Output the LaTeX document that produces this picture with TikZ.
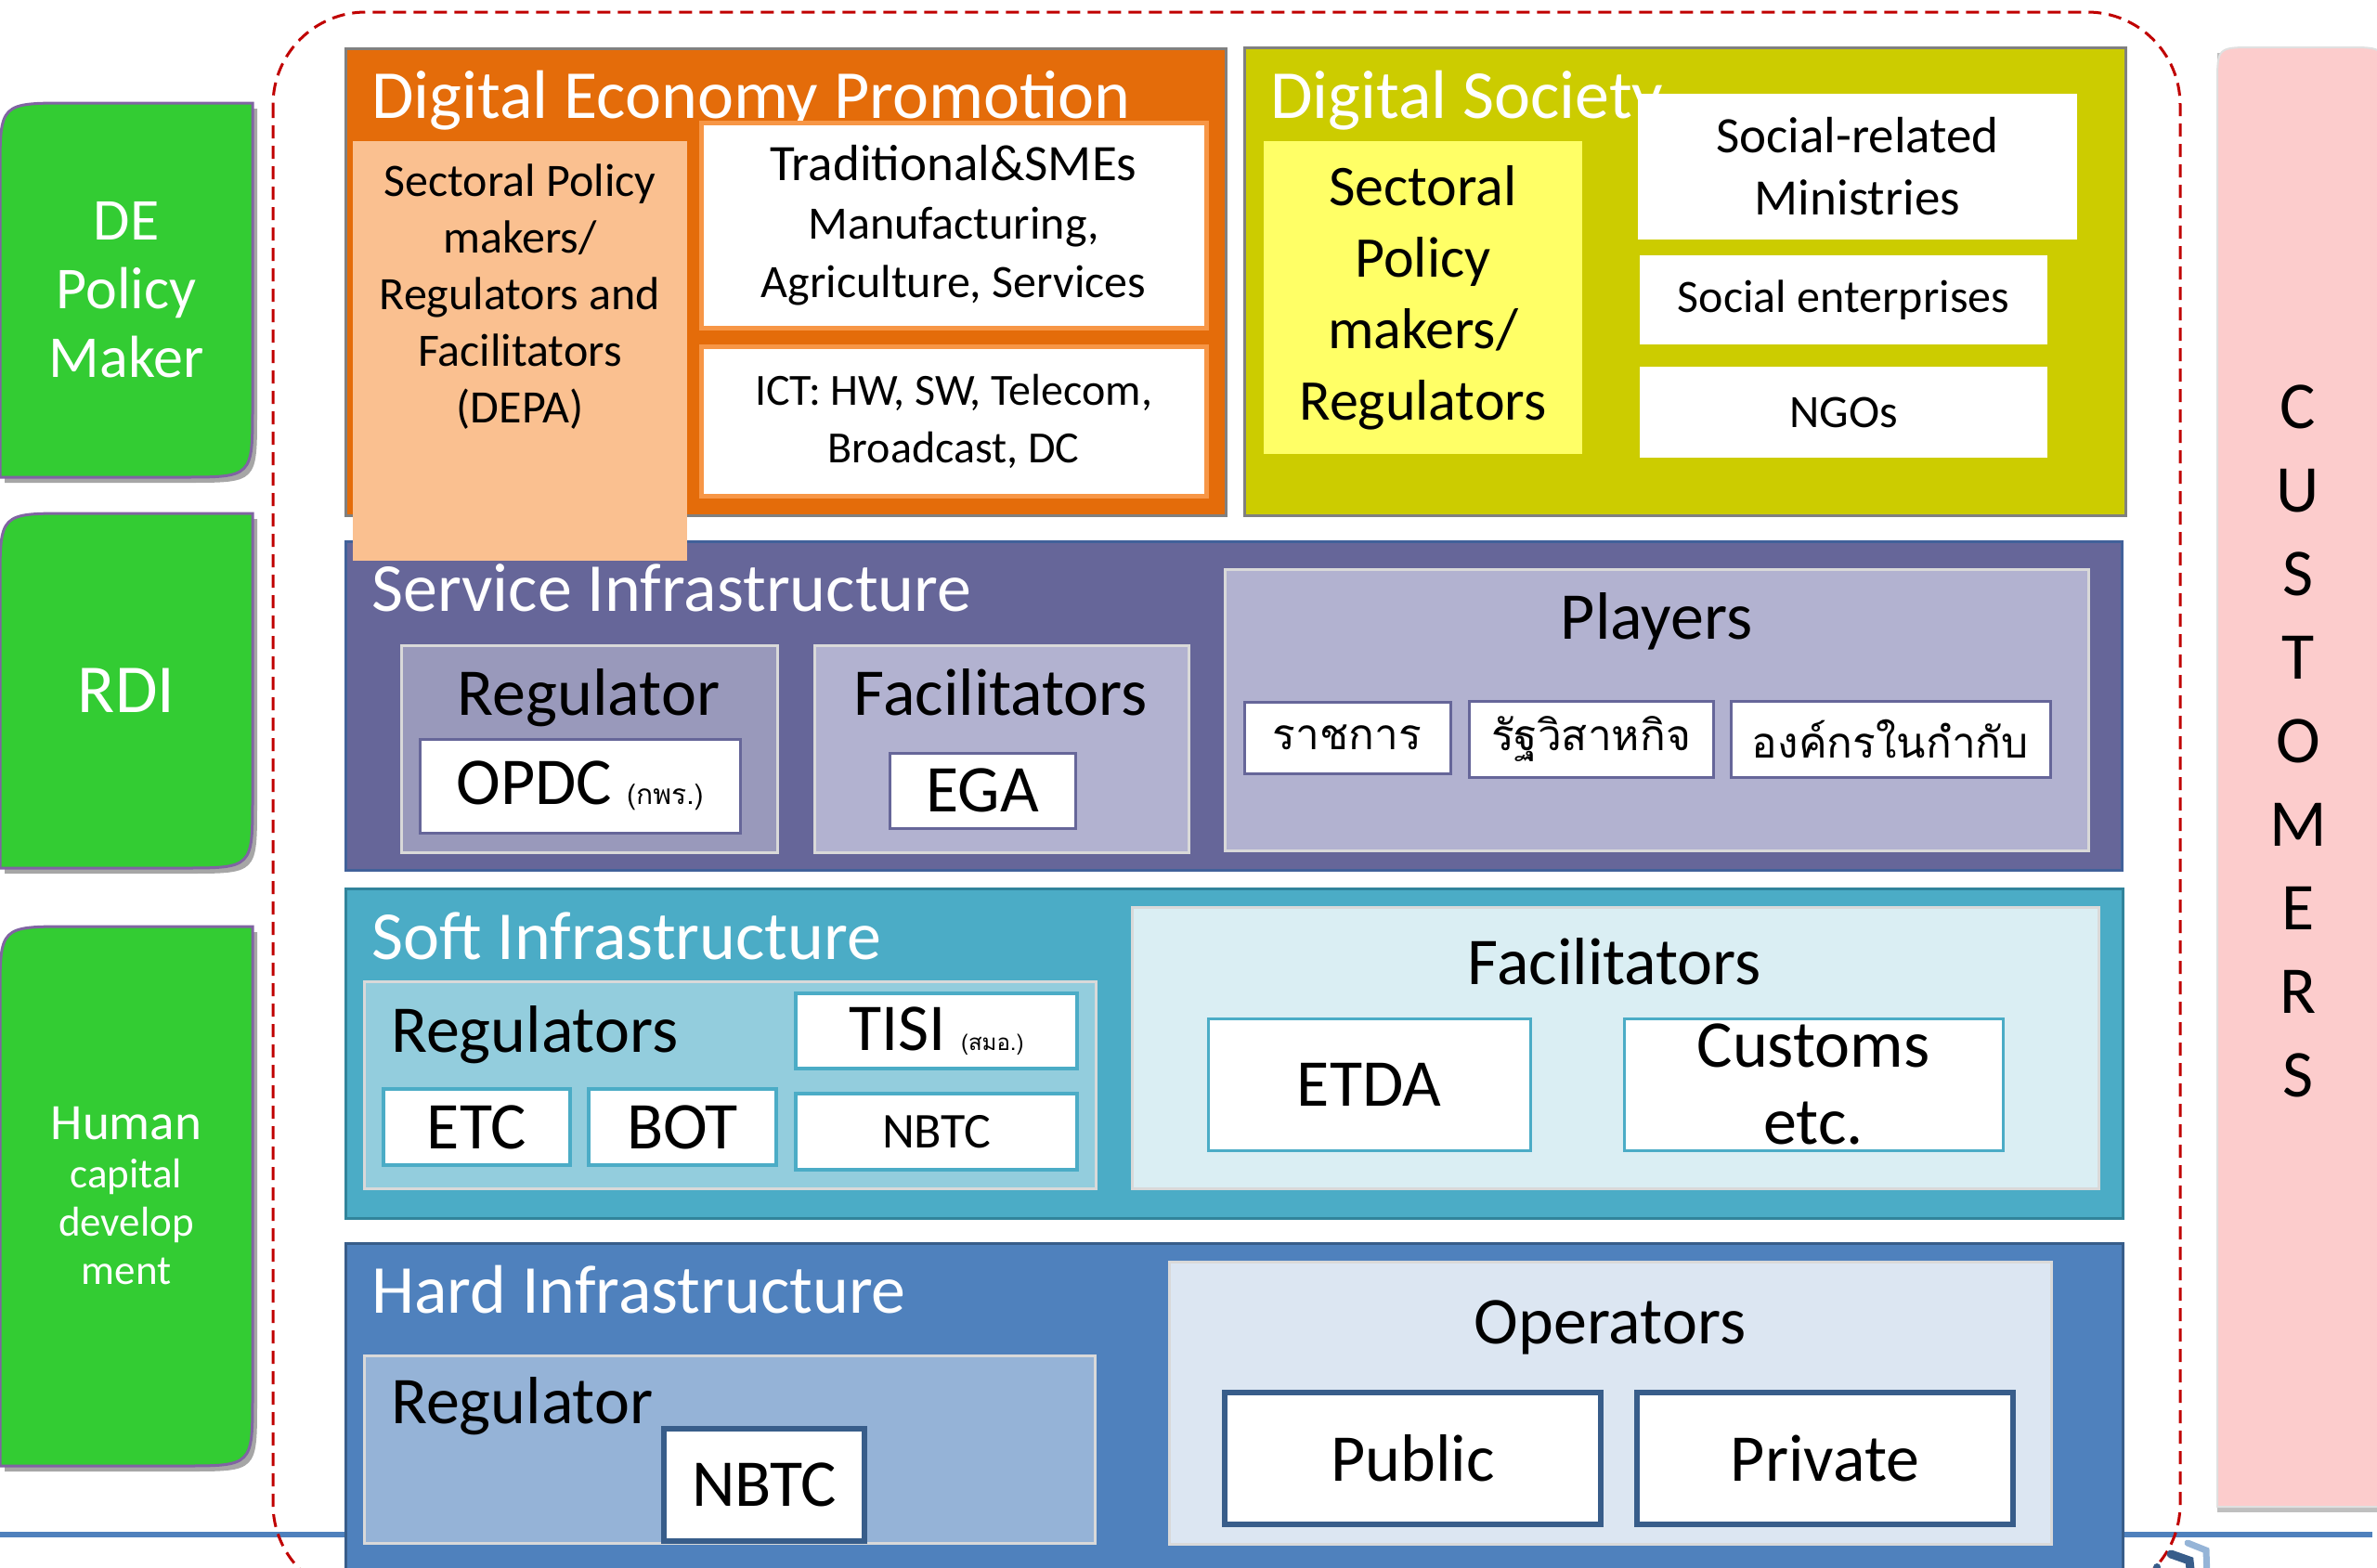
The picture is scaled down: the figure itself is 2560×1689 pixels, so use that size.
\documentclass[tikz,border=0pt]{standalone}
\usepackage{fontspec}
\setmainfont{Carlito}
\newfontfamily\thaifont[Script=Thai]{Loma}
\usetikzlibrary{calc,backgrounds}

\definecolor{deOrange}{HTML}{E46C0A}
\definecolor{deLine}{HTML}{F79646}
\definecolor{dePeach}{HTML}{FAC090}
\definecolor{dsOlive}{HTML}{CCCC00}
\definecolor{dsYellow}{HTML}{FFFF66}
\definecolor{svcPurple}{HTML}{666699}
\definecolor{svcEdge}{HTML}{41619A}
\definecolor{svcMid}{HTML}{9999BB}
\definecolor{svcLight}{HTML}{B2B2D0}
\definecolor{softTeal}{HTML}{4BACC6}
\definecolor{softEdge}{HTML}{31849B}
\definecolor{softLight}{HTML}{93CDDD}
\definecolor{softPale}{HTML}{DAEEF3}
\definecolor{hardBlue}{HTML}{4F81BD}
\definecolor{hardDark}{HTML}{385D8A}
\definecolor{hardMid}{HTML}{95B3D7}
\definecolor{hardPale}{HTML}{DCE6F2}
\definecolor{custPink}{HTML}{FCCCCC}
\definecolor{greenBox}{HTML}{33CC33}
\definecolor{greenEdge}{HTML}{8064A2}
\definecolor{dashRed}{HTML}{C00000}

\begin{document}
\begin{tikzpicture}[x=1pt,y=-1pt,
    box/.style={anchor=north west,inner sep=0pt,outer sep=0pt,align=center,text=black},
    layer/.style={box,line width=3pt},
    inner/.style={box,draw=black!15,line width=3pt},
    wbox/.style={box,fill=white,line width=3pt},
    side/.style={box,text=white,minimum width=272pt},
    ttl/.style={anchor=base west,inner sep=0pt,text=white,font=\fontsize{74}{89}\selectfont},
    lbl/.style={anchor=base,inner sep=0pt,font=\fontsize{72}{86}\selectfont},
    big/.style={font=\fontsize{72}{86}\selectfont},
    mid/.style={font=\fontsize{50}{62}\selectfont},
    thai/.style={font=\thaifont\fontsize{46}{55}\selectfont},
    gpath/.style={insert path={(#1.south west) -- ($(#1.north west)+(0,75)$)
      .. controls (#1.north west) .. ($(#1.north west)+(75,0)$) -- (#1.north east)
      -- ($(#1.south east)+(0,-75)$) .. controls (#1.south east) .. ($(#1.south east)+(-75,0)$) -- cycle}}]

  \useasboundingbox (0,0) rectangle (2560,1689);

  % slide line and dashed frame
  \draw[hardBlue,line width=6pt] (0,1653) -- (2555,1653);
  \draw[dashRed,line width=3pt,dash pattern=on 14pt off 8pt,rounded corners=100pt]
    (294,13) rectangle (2348,1720);
  \draw[hardDark,line width=9pt,line cap=round] (2338,1674) -- (2358,1681) -- (2360,1700);
  \draw[hardBlue!60,line width=7pt,line cap=round] (2356,1662) -- (2376,1670) -- (2377,1700);
  \fill[hardDark] (2323,1688) circle (4);

  % side boxes
  \node[side,minimum height=403pt,font=\fontsize{64}{74}\selectfont] (de) at (0,111) {DE\\Policy\\Maker};
  \node[side,minimum height=382pt,font=\fontsize{74}{88}\selectfont] (rdi) at (0,553) {RDI};
  \node[side,minimum height=581pt,font=\fontsize{45}{52}\selectfont] (hc) at (0,998)
    {{\fontsize{55}{60}\selectfont Human}\\capital\\develop\\ment};
  \node[box,minimum width=180pt,minimum height=1572pt] (cust) at (2388,51) {};
  \node[inner sep=0pt,align=center,font=\fontsize{72}{90}\selectfont] (custTxt) at (2475,798)
    {C\\U\\S\\T\\O\\M\\E\\R\\S};
  \begin{scope}[on background layer]
    \foreach \n in {de,rdi,hc}{
      \fill[black!35,transform canvas={shift={(5pt,-6pt)}}] [gpath=\n];
      \filldraw[fill=greenBox,draw=greenEdge,line width=3pt] [gpath=\n];
    }
    \fill[black!25,transform canvas={shift={(0pt,-6pt)}}] (cust.south west) -- (cust.north west) -- (cust.north east) -- (cust.south east) -- cycle;
    \filldraw[fill=custPink,draw=black!12,line width=2pt] (cust.south west) -- ($(cust.north west)+(0,40)$)
      .. controls (cust.north west) .. ($(cust.north west)+(40,0)$) -- ($(cust.north east)+(-40,0)$)
      .. controls (cust.north east) .. ($(cust.north east)+(0,40)$) -- (cust.south east) -- cycle;
  \end{scope}

  % layers
  \node[layer,fill=deOrange,draw=black!50,minimum width=948pt,minimum height=503pt] (deBox) at (372,52) {};
  \node[layer,fill=dsOlive,draw=black!50,minimum width=949pt,minimum height=504pt] (dsBox) at (1340,51) {};
  \node[layer,fill=svcPurple,draw=svcEdge,minimum width=1913pt,minimum height=354pt] (svc) at (372,583) {};
  \node[layer,fill=softTeal,draw=softEdge,minimum width=1914pt,minimum height=355pt] (soft) at (372,957) {};
  \node[layer,fill=hardBlue,draw=hardDark,minimum width=1914pt,minimum height=400pt] (hard) at (372,1339) {};

  % digital economy promotion
  \node[ttl] (deTtl) at (400,127) {Digital Economy Promotion};
  \node[box,fill=dePeach,minimum width=360pt,minimum height=452pt] (depa) at (380,152) {};
  \node[anchor=north,inner sep=0pt,align=center,font=\fontsize{50}{61}\selectfont] (depaTxt) at (560,177)
    {Sectoral Policy\\makers/\\Regulators and\\Facilitators\\(DEPA)};
  \node[wbox,draw=deLine,line width=5pt,minimum width=544pt,minimum height=221pt,font=\fontsize{50}{63}\selectfont] (trad) at (755,132)
    {{\fontsize{55}{63}\selectfont Traditional\&SMEs}\\Manufacturing,\\Agriculture, Services};
  \node[wbox,draw=deLine,line width=5pt,minimum width=544pt,minimum height=161pt,font=\fontsize{48}{62}\selectfont] (ict) at (755,373)
    {ICT: HW, SW, Telecom,\\Broadcast, DC};

  % digital society
  \node[ttl] (dsTtl) at (1368,127) {Digital Society};
  \node[box,fill=dsYellow,minimum width=343pt,minimum height=337pt,font=\fontsize{62}{77}\selectfont] (dsReg) at (1361,152)
    {Sectoral\\Policy\\makers/\\Regulators};
  \node[box,fill=white,minimum width=473pt,minimum height=157pt,font=\fontsize{55}{67}\selectfont] (socMin) at (1764,101)
    {Social-related\\Ministries};
  \node[box,fill=white,minimum width=439pt,minimum height=96pt,mid] (socEnt) at (1766,275) {Social enterprises};
  \node[box,fill=white,minimum width=439pt,minimum height=98pt,mid] (ngo) at (1766,395) {NGOs};

  % service infrastructure
  \node[ttl] (svcTtl) at (400,658) {Service Infrastructure};
  \node[inner,fill=svcMid,minimum width=405pt,minimum height=223pt] (svcReg) at (432,695) {};
  \node[lbl] (svcRegTxt) at (634,770) {Regulator};
  \node[wbox,draw=svcPurple,minimum width=345pt,minimum height=101pt,big] (opdc) at (452,796)
    {OPDC {\thaifont\fontsize{30}{30}\selectfont (กพร.)}};
  \node[inner,fill=svcLight,minimum width=403pt,minimum height=223pt] (svcFac) at (877,695) {};
  \node[lbl] (svcFacTxt) at (1078,770) {Facilitators};
  \node[wbox,draw=svcPurple,minimum width=200pt,minimum height=81pt,big] (ega) at (958,811) {EGA};
  \node[inner,fill=svcLight,minimum width=930pt,minimum height=303pt] (players) at (1319,613) {};
  \node[lbl] (playersTxt) at (1784,688) {Players};
  \node[wbox,draw=svcPurple,minimum width=222pt,minimum height=77pt,thai] (gov) at (1340,756) {ราชการ};
  \node[wbox,draw=svcPurple,minimum width=263pt,minimum height=82pt,thai] (soe) at (1582,755) {รัฐวิสาหกิจ};
  \node[wbox,draw=svcPurple,minimum width=344pt,minimum height=82pt,thai] (pub) at (1864,755) {องค์กรในกำกับ};

  % soft infrastructure
  \node[ttl] (softTtl) at (400,1033) {Soft Infrastructure};
  \node[inner,fill=softLight,minimum width=788pt,minimum height=223pt] (softReg) at (392,1057) {};
  \node[lbl,anchor=base west] (softRegTxt) at (421,1133) {Regulators};
  \node[wbox,draw=softTeal,line width=4pt,minimum width=303pt,minimum height=81pt,big] (tisi) at (857,1070)
    {TISI {\thaifont\fontsize{24}{24}\selectfont (สมอ.)}};
  \node[wbox,draw=softTeal,line width=4pt,minimum width=201pt,minimum height=82pt,big] (etc) at (413,1173) {ETC};
  \node[wbox,draw=softTeal,line width=4pt,minimum width=202pt,minimum height=82pt,big] (bot) at (634,1173) {BOT};
  \node[wbox,draw=softTeal,line width=4pt,minimum width=303pt,minimum height=82pt,font=\fontsize{54}{60}\selectfont] (nbtcS) at (857,1178) {NBTC};
  \node[inner,fill=softPale,minimum width=1041pt,minimum height=303pt] (softFac) at (1219,977) {};
  \node[lbl] (softFacTxt) at (1739,1060) {Facilitators};
  \node[wbox,draw=softTeal,minimum width=347pt,minimum height=142pt,big] (etda) at (1301,1097) {ETDA};
  \node[wbox,draw=softTeal,minimum width=408pt,minimum height=142pt,font=\fontsize{72}{83}\selectfont] (customs) at (1749,1097) {Customs\\etc.};

  % hard infrastructure
  \node[ttl] (hardTtl) at (400,1414) {Hard Infrastructure};
  \node[inner,fill=hardMid,minimum width=787pt,minimum height=202pt] (hardReg) at (392,1460) {};
  \node[lbl,anchor=base west] (hardRegTxt) at (421,1533) {Regulator};
  \node[wbox,draw=hardDark,line width=6pt,minimum width=216pt,minimum height=121pt,big] (nbtcH) at (715,1539) {NBTC};
  \node[inner,fill=hardPale,minimum width=950pt,minimum height=304pt] (ops) at (1259,1359) {};
  \node[lbl] (opsTxt) at (1734,1447) {Operators};
  \node[wbox,draw=hardDark,line width=6pt,minimum width=405pt,minimum height=142pt,big] (public) at (1319,1500) {Public};
  \node[wbox,draw=hardDark,line width=6pt,minimum width=405pt,minimum height=142pt,big] (private) at (1763,1500) {Private};
\end{tikzpicture}
\end{document}
